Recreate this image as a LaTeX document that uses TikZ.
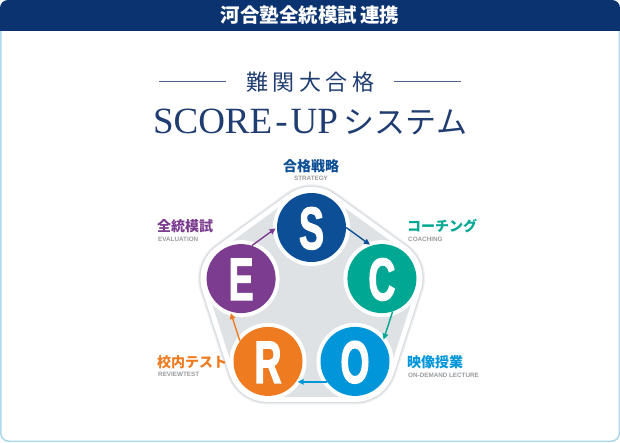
\documentclass[tikz,border=0pt]{standalone}
\usepackage{fontspec}
\setmainfont{Liberation Sans}
\newfontfamily\jp{Noto Sans CJK JP}
\newfontfamily\bigletter[FakeStretch=0.62,BoldFeatures={FakeBold=2}]{Liberation Sans}
\newfontfamily\serifroman{Liberation Serif}
\usetikzlibrary{arrows.meta}
\definecolor{hdr}{HTML}{0A3370}
\definecolor{framecol}{HTML}{AED9EA}
\definecolor{titlecol}{HTML}{1F3D70}
\definecolor{cS}{HTML}{0C4F97}
\definecolor{cC}{HTML}{00A893}
\definecolor{cO}{HTML}{0096D9}
\definecolor{cR}{HTML}{EF7B21}
\definecolor{cE}{HTML}{7C3C90}
\definecolor{engray}{HTML}{999B9E}
\definecolor{padgray}{HTML}{DFE2E5}
\definecolor{shadowcol}{HTML}{DADDE0}
\definecolor{shadowsoft}{HTML}{EDEFF1}
\tikzset{
  letter/.style={circle, minimum size=69pt, inner sep=0pt, text=white,
    font=\bigletter\bfseries\fontsize{60}{60}\selectfont, text height=43pt, text depth=0pt},
  ring/.style={circle, minimum size=77pt, inner sep=0pt, fill=white},
  jplab/.style={font=\jp\bfseries\fontsize{14}{14}\selectfont, inner sep=0pt},
  enlab/.style={font=\bfseries\fontsize{6.3}{6.3}\selectfont, text=engray, inner sep=0pt},
  flow/.style={line width=1.4pt, -{Triangle[length=6pt,width=5.5pt]}, shorten >=1.5pt},
  pad/.style={line join=round}
}
\begin{document}
\begin{tikzpicture}[x=1pt,y=-1pt]
\useasboundingbox (0,0) rectangle (620,442);
% frame
\draw[framecol, line width=1.5pt, fill=white, rounded corners=8pt] (0.75,0.75) rectangle (619.25,441.25);
\begin{scope}
  \clip[rounded corners=8pt] (0,0) rectangle (620,442);
  \fill[hdr] (0,0) rectangle (620,30.5);
\end{scope}
\node[text=white, font=\jp\bfseries\fontsize{19.5}{19.5}\selectfont, inner sep=0pt] (hdrtext) at (310,15.5) {河合塾全統模試\kern3pt 連携};
% title
\node[text=titlecol, font=\jp\fontsize{22}{22}\selectfont, inner sep=0pt] (t1) at (310,82) {難\kern4.5pt 関\kern4.5pt 大\kern4.5pt 合\kern4.5pt 格};
\draw[titlecol!80, line width=0.8pt] ([xshift=-20pt,yshift=0.5pt]t1.west) -- ++(-67,0);
\draw[titlecol!80, line width=0.8pt] ([xshift=20pt,yshift=0.5pt]t1.east) -- ++(67,0);
\node[text=titlecol, inner sep=0pt, anchor=base] (t2) at (310,133) {{\serifroman\fontsize{37}{37}\selectfont SCORE\kern3pt-\kern3pt UP}\kern6pt{\jp\fontsize{31}{31}\selectfont システム}};
% centers
\coordinate (pS) at (311.5,227.5);
\coordinate (pC) at (381.9,278.6);
\coordinate (pO) at (355,361.4);
\coordinate (pR) at (268,361.4);
\coordinate (pE) at (241.1,278.6);
% backdrop
\draw[pad, shadowsoft, fill=shadowsoft, line width=86pt] (pS) -- (pC) -- (pO) -- (pR) -- (pE) -- cycle;
\draw[pad, shadowcol, fill=shadowcol, line width=83.5pt] (pS) -- (pC) -- (pO) -- (pR) -- (pE) -- cycle;
\draw[pad, white, fill=white, line width=81pt] (pS) -- (pC) -- (pO) -- (pR) -- (pE) -- cycle;
\draw[pad, padgray, fill=padgray, line width=71pt] (pS) -- (pC) -- (pO) -- (pR) -- (pE) -- cycle;
\foreach \p in {pS,pC,pO,pR,pE} \node[ring] at (\p) {};
% circles
\node[letter, fill=cS] (S) at (pS) {S};
\node[letter, fill=cC] (C) at (pC) {C};
\node[letter, fill=cO] (O) at (pO) {O};
\node[letter, fill=cR] (R) at (pR) {R};
\node[letter, fill=cE] (E) at (pE) {E};
% arrows
\draw[flow, cS] (S.0) -- (C.108);
\draw[flow, cC] (C.-72) -- (O.36);
\draw[flow, cO] (O.216) -- (R.-36);
\draw[flow, cR] (R.144) -- (E.252);
\draw[flow, cE] (E.72) -- (S.180);
% labels
\node[jplab, text=cS] (lS) at (311,166) {合格戦略};
\node[enlab] (lSe) at (311,178) {STRATEGY};
\node[jplab, text=cE, anchor=west] (lE) at (157,226) {全統模試};
\node[enlab, anchor=west] (lEe) at (158,239) {EVALUATION};
\node[jplab, text=cC, anchor=west] (lC) at (407,226) {コーチング};
\node[enlab, anchor=west] (lCe) at (408,239) {COACHING};
\node[jplab, text=cR, anchor=west] (lR) at (157,362) {校内テスト};
\node[enlab, anchor=west] (lRe) at (158,374.5) {REVIEWTEST};
\node[jplab, text=cO, anchor=west] (lO) at (407,362) {映像授業};
\node[enlab, anchor=west] (lOe) at (408,375.5) {ON-DEMAND LECTURE};
\end{tikzpicture}
\end{document}
